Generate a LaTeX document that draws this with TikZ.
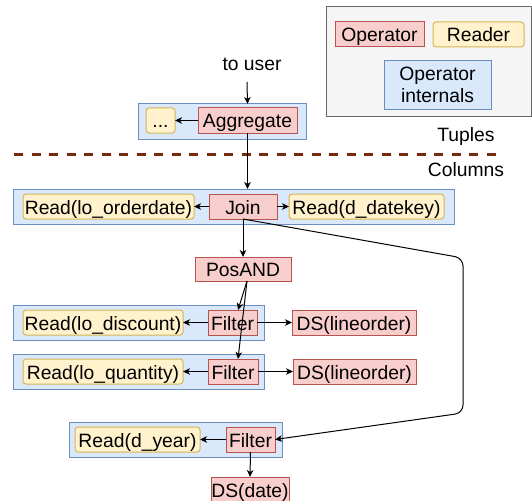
\documentclass[tikz,border=0pt]{standalone}
\usepackage{fontspec}
\setmainfont{Liberation Sans}
\usetikzlibrary{arrows.meta}

\definecolor{opFill}{HTML}{F8CECC}
\definecolor{opLine}{HTML}{B85450}
\definecolor{rdFill}{HTML}{FFF2CC}
\definecolor{rdLine}{HTML}{D6B656}
\definecolor{inFill}{HTML}{DAE8FC}
\definecolor{inLine}{HTML}{6C8EBF}
\definecolor{lgFill}{HTML}{F5F5F5}
\definecolor{lgLine}{HTML}{666666}
\definecolor{cutLine}{HTML}{7A2A0C}

\tikzset{
  boxbase/.style={draw, line width=1pt, inner sep=0pt, outer sep=0pt,
    font=\fontsize{19.3}{22}\selectfont, text height=17pt, text depth=2pt,
    minimum height=25pt},
  opbox/.style={boxbase, fill=opFill, draw=opLine},
  rdbox/.style={boxbase, fill=rdFill, draw=rdLine, rounded corners=3pt},
  grpbox/.style={draw=inLine, fill=inFill, line width=1pt, inner sep=0pt,
    outer sep=0pt, minimum height=35pt},
  label/.style={font=\fontsize{19.3}{22}\selectfont, inner sep=0pt},
  arr/.style={-{Stealth[length=7pt,width=6.5pt,inset=2pt]}, line width=1pt, black},
  cut/.style={draw=cutLine, line width=3pt, dash pattern=on 9pt off 8.5pt}
}

\begin{document}
\begin{tikzpicture}[x=1pt,y=-1pt]
\useasboundingbox (0,0) rectangle (532,500);

% legend
\node[draw=lgLine, fill=lgFill, line width=1pt, minimum width=205pt, minimum height=109pt,
      inner sep=0pt] (legend) at (428.5,61.5) {};
\node[opbox, minimum width=89pt] (legOp) at (379.5,34.5) {Operator};
\node[rdbox, minimum width=91pt] (legRd) at (478.5,34.5) {Reader};
\node[grpbox, minimum width=107pt, minimum height=49pt, align=center,
      font=\fontsize{19.3}{22}\selectfont] (legIn) at (437.5,85) {Operator\\internals};

% aggregation on top
\node[label] (toUser) at (252,64) {to user};
\coordinate (userEnd) at (247,82);
\node[grpbox, minimum width=168pt] (aggGrp) at (222,121.5) {};
\node[rdbox, minimum width=29pt] (dots) at (160.5,120.5) {...};
\node[opbox, minimum width=99pt] (agg) at (247.5,120.5) {Aggregate};

% tuple / column boundary
\node[label] (tuples) at (466,137) {Tuples};
\node[label] (columns) at (466,170) {Columns};
\coordinate (cutL) at (14,154);
\coordinate (cutR) at (497,154);
\draw[cut] (cutL) -- (cutR);

% join
\node[grpbox, minimum width=441pt] (joinGrp) at (233.5,206.5) {};
\node[rdbox, minimum width=171pt] (rdOrd) at (108.5,206.5) {Read(lo\_orderdate)};
\node[opbox, minimum width=68pt] (join) at (243,206.5) {Join};
\node[rdbox, minimum width=155pt] (rdKey) at (366.5,206.5) {Read(d\_datekey)};

\node[opbox, minimum width=96pt, minimum height=24pt] (posand) at (243,269) {PosAND};

% first filter
\node[grpbox, minimum width=251pt] (grpA) at (138.5,322.5) {};
\node[rdbox, minimum width=160pt] (rdDisc) at (103,322.5) {Read(lo\_discount)};
\node[opbox, minimum width=49pt] (fA) at (232.5,322.5) {Filter};
\node[opbox, minimum width=124pt] (dsA) at (354,322.5) {DS(lineorder)};

% second filter
\node[grpbox, minimum width=251pt] (grpB) at (138.5,371.5) {};
\node[rdbox, minimum width=160pt] (rdQty) at (103,371.5) {Read(lo\_quantity)};
\node[opbox, minimum width=50pt] (fB) at (233,371.5) {Filter};
\node[opbox, minimum width=123pt] (dsB) at (354.5,371.5) {DS(lineorder)};

% date filter
\node[grpbox, minimum width=213pt] (grpC) at (175.5,439.5) {};
\node[rdbox, minimum width=125pt] (rdYear) at (137.5,439.5) {Read(d\_year)};
\node[opbox, minimum width=49pt] (fC) at (250.5,439.5) {Filter};
\node[opbox, minimum width=78pt] (dsDate) at (250,489.5) {DS(date)};

% connectors
\draw[arr] (userEnd) -- (agg.north |- aggGrp.north);
\draw[arr] (agg.west) -- (dots.east);
\draw[arr] (agg.south) -- (agg.south |- joinGrp.north);
\draw[arr] (join.west) -- (rdOrd.east);
\draw[arr] (join.east) -- (rdKey.west);
\draw[arr] (join.south) -- (posand.north);
\draw[arr] ([xshift=4pt]posand.south) -- ([xshift=5.5pt]fA.north);
\draw[arr] ([xshift=4pt]posand.south) -- ([xshift=5pt]fB.north);
\draw[arr] (fA.west) -- (rdDisc.east);
\draw[arr] (fA.east) -- (dsA.west);
\draw[arr] (fB.west) -- (rdQty.east);
\draw[arr] (fB.east) -- (dsB.west);
\draw[arr] (fC.west) -- (rdYear.east);
\draw[arr] (fC.south) -- (dsDate.north);
\coordinate (bendA) at (463,258);
\coordinate (bendB) at (463,413);
\draw[arr, rounded corners=8pt] (join.south) -- (bendA) -- (bendB) -- (fC.east);
\end{tikzpicture}
\end{document}
